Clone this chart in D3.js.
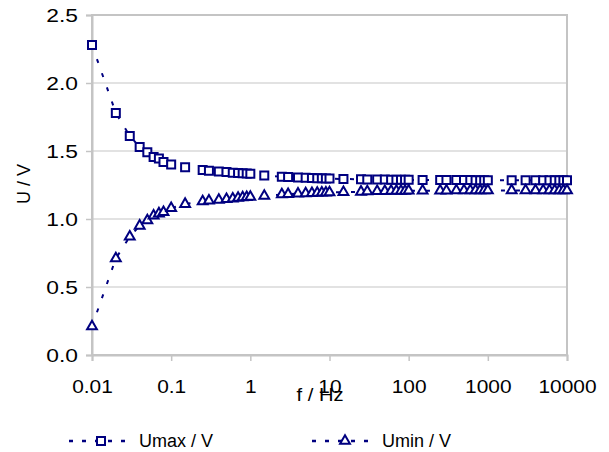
<!DOCTYPE html>
<html>
<head>
<meta charset="utf-8">
<script src="https://cdn.jsdelivr.net/npm/d3@7"></script>
<style>
  body { margin: 0; background: #fff; }
  text { font-family: "Liberation Sans", Arial, sans-serif; fill: #000; }
</style>
</head>
<body>
<svg width="609" height="452"></svg>
<script>
// data
const freq = [0.01, 0.02, 0.03, 0.04, 0.05, 0.06, 0.07, 0.08, 0.1,
  0.15, 0.25, 0.3, 0.4, 0.5, 0.6, 0.7, 0.8, 0.9, 1,
  1.5, 2.5, 3, 4, 5, 6, 7, 8, 9, 10,
  15, 25, 30, 40, 50, 60, 70, 80, 90, 100,
  150, 250, 300, 400, 500, 600, 700, 800, 900, 1000,
  2000, 3000, 4000, 5000, 6000, 7000, 8000, 9000, 10000];

const umax = [2.28, 1.78, 1.61, 1.53, 1.49, 1.455, 1.445, 1.42, 1.40,
  1.38, 1.36, 1.355, 1.35, 1.345, 1.34, 1.338, 1.336, 1.334, 1.332,
  1.32, 1.31, 1.308, 1.305, 1.303, 1.301, 1.300, 1.299, 1.298, 1.297,
  1.294, 1.292, 1.291, 1.29, 1.29, 1.289, 1.289, 1.288, 1.288, 1.288,
  1.287, 1.287, 1.286, 1.286, 1.286, 1.286, 1.285, 1.285, 1.285, 1.285,
  1.285, 1.285, 1.285, 1.285, 1.285, 1.285, 1.285, 1.285, 1.285];

const umin = [0.21, 0.71, 0.87, 0.95, 0.99, 1.025, 1.04, 1.05, 1.08,
  1.11, 1.13, 1.135, 1.14, 1.145, 1.15, 1.155, 1.158, 1.16, 1.162,
  1.17, 1.18, 1.183, 1.186, 1.188, 1.19, 1.192, 1.193, 1.194, 1.195,
  1.198, 1.2, 1.202, 1.204, 1.205, 1.206, 1.206, 1.207, 1.207, 1.208,
  1.208, 1.209, 1.209, 1.21, 1.21, 1.21, 1.21, 1.21, 1.21, 1.21,
  1.21, 1.21, 1.21, 1.21, 1.21, 1.21, 1.21, 1.21, 1.21];

const xTicks = [0.01, 0.1, 1, 10, 100, 1000, 10000];
const yTicks = [0, 0.5, 1, 1.5, 2, 2.5];
const seriesNames = ["Umax / V", "Umin / V"];

const svg = d3.select('svg');
const navy = '#000080';

const x = d3.scaleLog().domain([0.01, 10000]).range([92, 567]);
const y = d3.scaleLinear().domain([0, 2.5]).range([355, 15]);

// grid lines
svg.append('g').selectAll('line')
  .data(yTicks.filter(d => d > 0 && d < 2.5))
  .enter().append('line')
  .attr('x1', x.range()[0]).attr('x2', x.range()[1])
  .attr('y1', d => y(d)).attr('y2', d => y(d))
  .attr('stroke', '#d9d9d9').attr('stroke-width', 1.5);

// plot frame
svg.append('rect')
  .attr('x', 92).attr('y', 15)
  .attr('width', 567 - 92).attr('height', 355 - 15)
  .attr('fill', 'none').attr('stroke', '#c4c4c4').attr('stroke-width', 2);

// axes
const xAxis = d3.axisBottom(x).tickValues(xTicks)
  .tickFormat(d => String(d)).tickSize(6).tickPadding(19);
const yAxis = d3.axisLeft(y).tickValues(yTicks)
  .tickFormat(d3.format('.1f')).tickSize(6).tickPadding(14);

const gx = svg.append('g').attr('transform', 'translate(0,355)').call(xAxis);
const gy = svg.append('g').attr('transform', 'translate(92,0)').call(yAxis);
[gx, gy].forEach(g => {
  g.select('.domain').attr('stroke', '#c4c4c4').attr('stroke-width', 2);
  g.selectAll('.tick line').attr('stroke', '#c4c4c4').attr('stroke-width', 1.5);
  g.selectAll('.tick text').attr('font-size', 19)
    .attr('font-family', '"Liberation Sans", Arial, sans-serif').attr('fill', '#000');
});
// the original labels are drawn a little wider than normal
gx.selectAll('.tick text').attr('transform', 'scale(1.1,1)');
gy.selectAll('.tick text').attr('x', -14 / 1.2).attr('transform', 'scale(1.2,1)');

// axis titles
svg.append('text').attr('transform', 'translate(320,401) scale(1.12,1)')
  .attr('text-anchor', 'middle').attr('font-size', 18).text('f / Hz');
svg.append('text').attr('transform', 'translate(30,184) rotate(-90)')
  .attr('text-anchor', 'middle').attr('font-size', 18).text('U / V');

// series
const series = [umax, umin].map((vals, i) => ({
  name: seriesNames[i],
  pts: freq.map((f, j) => ({ f: f, u: vals[j] }))
}));

const line = d3.line().x(d => x(d.f)).y(d => y(d.u));

const sq = d3.symbol().type(d3.symbolSquare).size(64);
const tri = d3.symbol().type(d3.symbolTriangle).size(42);

series.forEach((s, i) => {
  svg.append('path').datum(s.pts)
    .attr('d', line)
    .attr('fill', 'none').attr('stroke', navy)
    .attr('stroke-width', 2).attr('stroke-dasharray', '4,11');
  svg.append('g').selectAll('path')
    .data(s.pts).enter().append('path')
    .attr('transform', d => `translate(${x(d.f)},${y(d.u)})`)
    .attr('d', i === 0 ? sq : tri)
    .attr('fill', '#fff').attr('stroke', navy).attr('stroke-width', 2);
});

// legend
const legendX = [69, 312];
series.forEach((s, i) => {
  const g = svg.append('g').attr('transform', `translate(${legendX[i]},441)`);
  g.append('line').attr('x1', 0).attr('x2', 58).attr('y1', 0).attr('y2', 0)
    .attr('stroke', navy).attr('stroke-width', 2.5).attr('stroke-dasharray', '4,9');
  g.append('path').attr('transform', `translate(${i === 0 ? 32 : 33},0)`)
    .attr('d', i === 0 ? sq : tri)
    .attr('fill', '#fff').attr('stroke', navy).attr('stroke-width', 2);
  g.append('text').attr('x', 70).attr('y', 6).attr('font-size', 18).text(s.name);
});
</script>
</body>
</html>
